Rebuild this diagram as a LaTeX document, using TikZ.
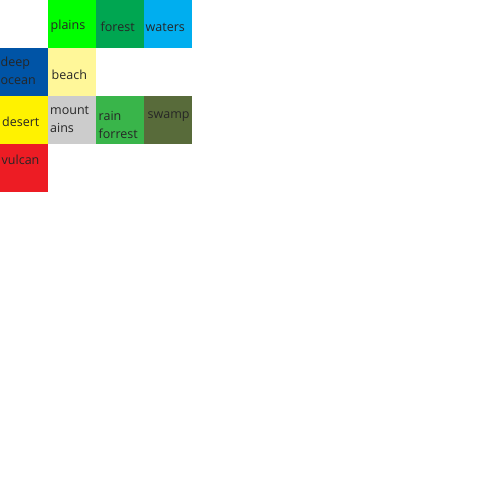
\documentclass[tikz,border=0pt]{standalone}
\usepackage{fontspec}
\setmainfont{Open Sans}
\usepackage{tikz}
\usetikzlibrary{positioning}
\definecolor{plainsc}{HTML}{00FF00}
\definecolor{forestc}{HTML}{00A651}
\definecolor{watersc}{HTML}{00AEEF}
\definecolor{oceanc}{HTML}{0054A6}
\definecolor{beachc}{HTML}{FFF799}
\definecolor{desertc}{HTML}{FFF200}
\definecolor{mountc}{HTML}{CCCCCC}
\definecolor{rainc}{HTML}{39B54A}
\definecolor{swampc}{HTML}{586B3A}
\definecolor{vulcanc}{HTML}{ED1C24}
\tikzset{
  tile/.style={minimum width=48pt, minimum height=48pt, inner sep=0pt, outer sep=0pt, anchor=north west},
  tilelabel/.style={inner sep=0pt, anchor=base west, align=left, font=\fontsize{12.5}{18}\selectfont, text=black!85}
}

\begin{document}
\begin{tikzpicture}[x=1pt, y=-1pt]
    \useasboundingbox (0,0) rectangle (480,480);

    % tiles
    \node[tile, fill=plainsc] (plains) at (48,0) {};
    \node[tile, fill=forestc] (forest) at (96,0) {};
    \node[tile, fill=watersc] (waters) at (144,0) {};
    \node[tile, fill=oceanc] (ocean) at (0,48) {};
    \node[tile, fill=beachc] (beach) at (48,48) {};
    \node[tile, fill=desertc] (desert) at (0,96) {};
    \node[tile, fill=mountc] (mount) at (48,96) {};
    \node[tile, fill=rainc] (rain) at (96,96) {};
    \node[tile, fill=swampc] (swamp) at (144,96) {};
    \node[tile, fill=vulcanc] (vulcan) at (0,144) {};

    % labels (base = last line)
    \node[tilelabel] (plainsl) at (50.5,29.3) {plains};
    \node[tilelabel] (forestl) at (100.5,31) {forest};
    \node[tilelabel] (watersl) at (145.5,31) {waters};
    \node[tilelabel] (oceanl) at (0.5,84.5) {deep\\ocean};
    \node[tilelabel] (beachl) at (51.5,79) {beach};
    \node[tilelabel] (desertl) at (2,126.7) {desert};
    \node[tilelabel] (mountl) at (50,132) {mount\\ains};
    \node[tilelabel] (rainl) at (98.5,138.5) {rain\\forrest};
    \node[tilelabel] (swampl) at (147.5,118.3) {swamp};
    \node[tilelabel] (vulcanl) at (1.5,164) {vulcan};
\end{tikzpicture}
\end{document}
